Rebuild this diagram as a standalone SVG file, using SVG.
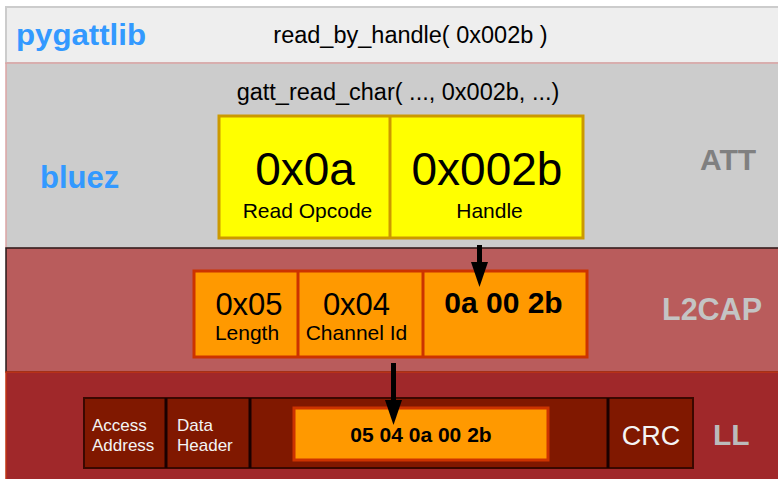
<svg xmlns="http://www.w3.org/2000/svg" width="778" height="479" viewBox="0 0 778 479">
<style>
text{font-family:"Liberation Sans",Arial,sans-serif}
.lbl{font-weight:bold}
.blue{fill:#3399ff;font-weight:bold}
.mid{text-anchor:middle}
.yel{fill:#ffff00;stroke:#cc9900;stroke-width:3}
.org{fill:#ff9900;stroke:#cc3300;stroke-width:3}
.pk{fill:#801800;stroke:#3a0800;stroke-width:2}
.div{stroke:#1a0000;stroke-width:3}
.arr{stroke:#000;stroke-width:5;fill:none}
</style>
<defs>
<marker id="ah" markerUnits="userSpaceOnUse" markerWidth="26" markerHeight="18" viewBox="0 0 26 18" refX="8" refY="9" orient="auto">
<path d="M0,0.5 L25,9 L0,17.5 z" fill="#000"/>
</marker>
</defs>
<rect width="778" height="479" fill="#ffffff"/>
<g id="layer-pygattlib">
<rect x="6" y="7" width="790" height="56" fill="#eeeeee" stroke="#cccccc" stroke-width="2"/>
<text x="16" y="45" class="blue" font-size="29" textLength="130" lengthAdjust="spacingAndGlyphs">pygattlib</text>
<text x="410.5" y="43" class="mid" font-size="23.5" fill="#000">read_by_handle( 0x002b )</text>
</g>
<g id="layer-att">
<rect x="6" y="63" width="790" height="185" fill="#cccccc" stroke="#dba4a4" stroke-width="1.5"/>
<text x="398" y="100" class="mid" font-size="23.5" fill="#000">gatt_read_char( ..., 0x002b, ...)</text>
<text x="40" y="188" class="blue" font-size="31">bluez</text>
<text x="700" y="170" class="lbl" font-size="30" fill="#808080">ATT</text>
</g>
<g id="att-pdu">
<rect x="219" y="116" width="364" height="122" class="yel"/>
<line x1="390" y1="116" x2="390" y2="238" stroke="#cc9900" stroke-width="3"/>
<text x="305" y="185" class="mid" font-size="46">0x0a</text>
<text x="307.5" y="218" class="mid" font-size="21">Read Opcode</text>
<text x="487" y="185" class="mid" font-size="46">0x002b</text>
<text x="489.5" y="218" class="mid" font-size="21">Handle</text>
</g>
<g id="layer-l2cap">
<rect x="6" y="248" width="790" height="124" fill="#b95c5c" stroke="#2a1a1a" stroke-width="1.5"/>
<text x="662" y="320" class="lbl" font-size="30.5" fill="#c4c4c4">L2CAP</text>
</g>
<g id="l2cap-pdu">
<rect x="194" y="271" width="393" height="86" class="org"/>
<line x1="298" y1="271" x2="298" y2="357" stroke="#cc3300" stroke-width="3"/>
<line x1="423" y1="271" x2="423" y2="357" stroke="#cc3300" stroke-width="3"/>
<text x="249" y="315" class="mid" font-size="31">0x05</text>
<text x="247" y="340" class="mid" font-size="21">Length</text>
<text x="356.5" y="315" class="mid" font-size="31">0x04</text>
<text x="356.5" y="340" class="mid" font-size="21">Channel Id</text>
<text x="503.5" y="313" class="mid lbl" font-size="30">0a 00 2b</text>
</g>
<g id="layer-ll">
<rect x="6" y="372" width="790" height="112" fill="#a0282a" stroke="#c03414" stroke-width="1.5"/>
<text x="713" y="445" class="lbl" font-size="30" fill="#bbbbbb">LL</text>
</g>
<g id="ll-packet">
<rect x="84" y="398" width="609" height="70" class="pk"/>
<line x1="166" y1="398" x2="166" y2="468" class="div"/>
<line x1="250" y1="398" x2="250" y2="468" class="div"/>
<line x1="608" y1="398" x2="608" y2="468" class="div"/>
<text x="92" y="431" font-size="17" fill="#f4f4f4">Access</text>
<text x="92" y="451" font-size="17" fill="#f4f4f4">Address</text>
<text x="177" y="431" font-size="17" fill="#f4f4f4">Data</text>
<text x="177" y="451" font-size="17" fill="#f4f4f4">Header</text>
<rect x="294" y="408" width="254" height="52" class="org"/>
<text x="421" y="442" class="mid lbl" font-size="21">05 04 0a 00 2b</text>
<text x="651" y="445" class="mid" font-size="27" fill="#f4f4f4">CRC</text>
</g>
<g id="connectors">
<line x1="479.5" y1="245" x2="479.5" y2="270" class="arr" marker-end="url(#ah)"/>
<line x1="393.5" y1="363" x2="393.5" y2="408" class="arr" marker-end="url(#ah)"/>
</g>
</svg>
